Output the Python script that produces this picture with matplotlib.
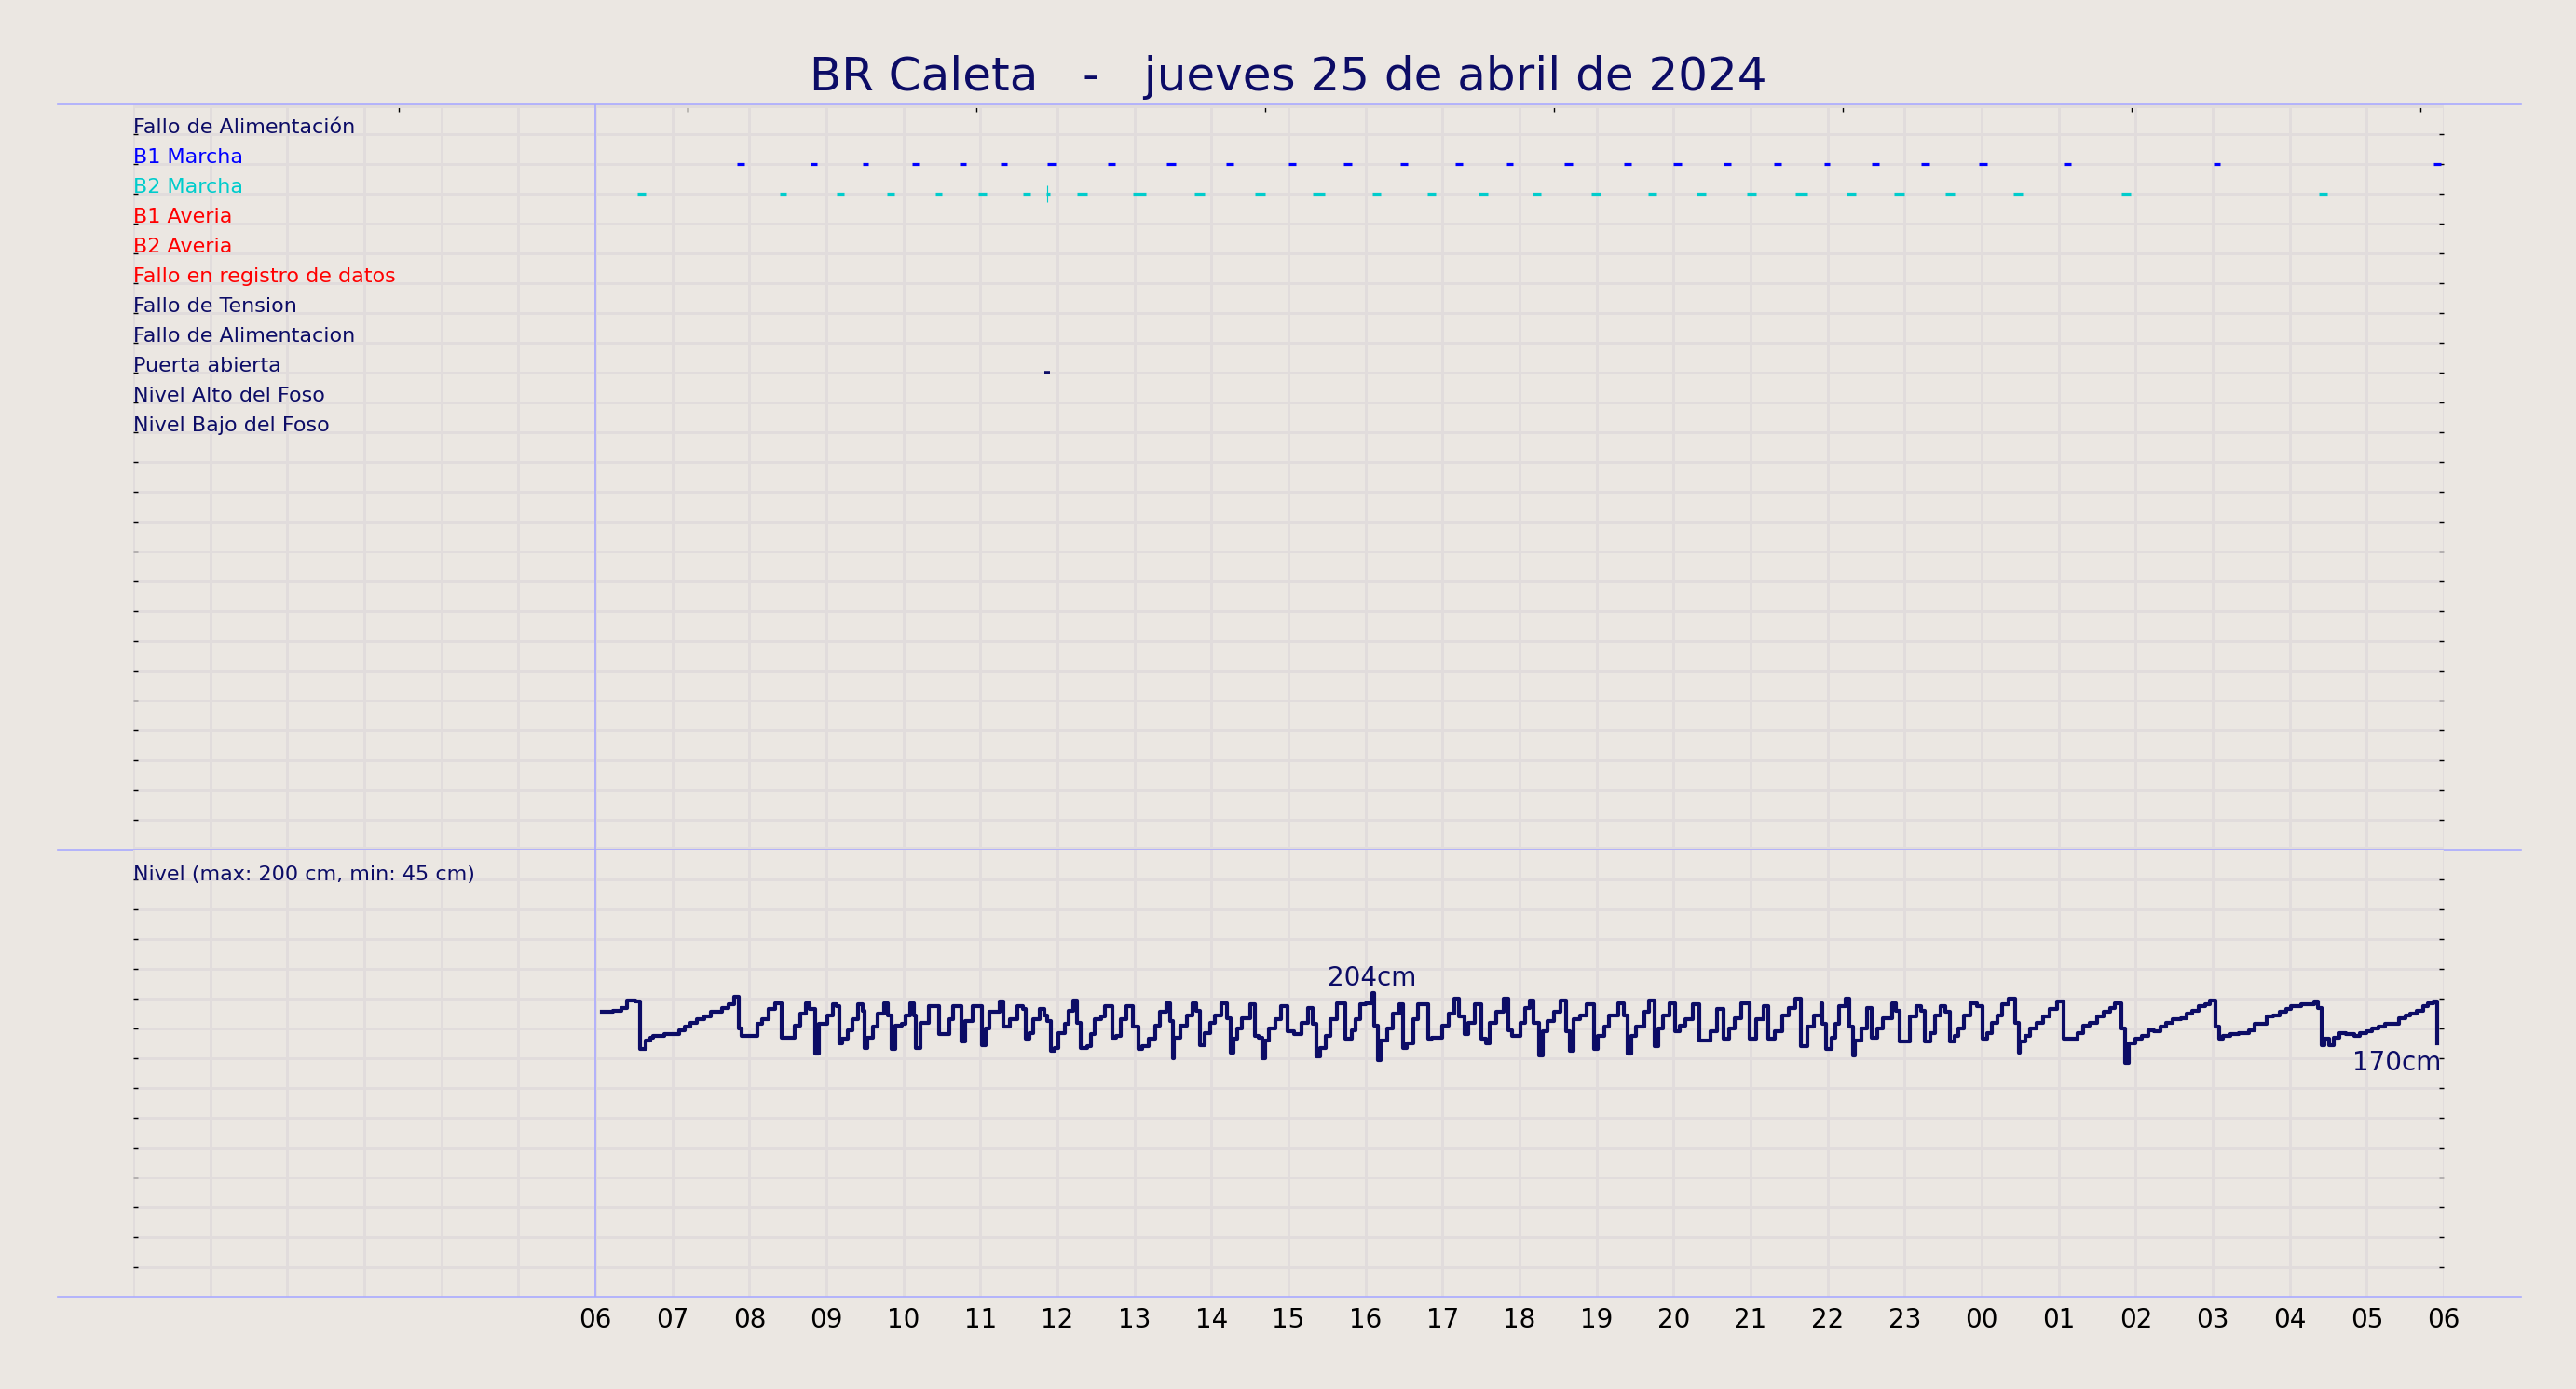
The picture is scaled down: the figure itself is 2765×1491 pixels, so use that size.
import matplotlib
matplotlib.use("Agg")
import matplotlib.pyplot as plt
from matplotlib.ticker import FixedLocator, MultipleLocator

# colores
fondo = '#ebe7e2'
rejilla = '#e1dcdc'
azul_claro = '#aaaaff'
marino = '#0c0c66'

# filas de eventos (de arriba a abajo)
filas = ["Fallo de Alimentación", "B1 Marcha", "B2 Marcha", "B1 Averia", "B2 Averia",
         "Fallo en registro de datos", "Fallo de Tension", "Fallo de Alimentacion",
         "Puerta abierta", "Nivel Alto del Foso", "Nivel Bajo del Foso"]
colores_filas = [marino, '#0000ff', '#00cccc', '#ff0000', '#ff0000', '#ff0000',
                 marino, marino, marino, marino, marino]

# marchas de bombas (inicio, fin)
b1_ini = ["07:50", "08:48", "09:28", "10:07", "10:44", "11:16", "11:52", "12:39", "13:25",
          "14:11", "15:00", "15:43", "16:27", "17:10", "17:50", "18:35", "19:21", "20:00",
          "20:39", "21:18", "21:57", "22:34", "23:13", "23:58", "01:04", "03:01", "05:52"]
b1_fin = ["07:56", "08:53", "09:33", "10:12", "10:49", "11:21", "11:59", "12:45", "13:32",
          "14:17", "15:06", "15:49", "16:33", "17:16", "17:55", "18:41", "19:27", "20:06",
          "20:45", "21:24", "22:02", "22:40", "23:19", "00:04", "01:10", "03:06", "05:58"]
b2_ini = ["06:33", "08:24", "09:08", "09:47", "10:25", "10:58", "11:33", "11:51", "12:15",
          "12:59", "13:47", "14:34", "15:19", "16:05", "16:48", "17:28", "18:10", "18:56",
          "19:40", "20:18", "20:57", "21:35", "22:15", "22:52", "23:32", "00:25", "01:49", "04:23"]
b2_fin = ["06:39", "08:29", "09:14", "09:53", "10:30", "11:05", "11:39", "11:54", "12:23",
          "13:09", "13:55", "14:42", "15:28", "16:12", "16:55", "17:35", "18:17", "19:03",
          "19:47", "20:25", "21:04", "21:44", "22:22", "23:00", "23:39", "00:32", "01:56", "04:29"]
b2_pulso = ["11:52"]
puerta_ini = ["11:50"]
puerta_fin = ["11:54"]

# nivel del foso: minutos desde las 06:00 y cm
nivel_min = [5, 14, 20, 25, 31, 35, 39, 43, 45, 54, 65, 70, 74, 79, 85, 90, 99, 104, 108, 112,
             114, 126, 130, 135, 140, 145, 155, 160, 164, 167, 171, 174, 181, 185, 188, 190, 192,
             197, 200, 205, 208, 210, 212, 216, 220, 225, 228, 231, 234, 239, 242, 245, 248, 250,
             253, 260, 268, 276, 279, 285, 288, 294, 301, 304, 307, 315, 318, 323, 329, 333, 335,
             338, 341, 346, 350, 352, 355, 358, 361, 366, 369, 372, 375, 378, 383, 386, 389, 394,
             397, 403, 406, 409, 414, 419, 423, 426, 431, 436, 440, 445, 448, 450, 451, 456, 461,
             465, 468, 471,
             475, 479, 483, 488, 492, 495, 497, 500, 504, 510, 514, 517, 520, 522, 525, 530, 534,
             539, 544, 550, 555, 559, 562, 565, 569, 573, 578, 584, 589, 592, 596, 600, 605, 607,
             610, 612, 617, 621, 626, 629, 632, 637, 641, 649, 652, 660, 665, 669, 673, 677, 680,
             685, 690, 694, 697, 702, 708, 711, 714, 721, 724, 728, 731, 735, 738, 742, 747, 752,
             756, 759, 762, 767, 772, 778, 781, 786, 790, 797, 801, 804, 807, 811, 817, 821, 825,
             828, 832, 837, 841, 845, 849, 855, 860, 869, 874, 879, 883, 888, 893, 899, 904, 910,
             914, 919, 925, 930, 935, 939, 944, 949, 955,
             956, 959, 963, 966, 969, 974, 977, 980, 981, 986, 991, 994, 999, 1003, 1010, 1013,
             1016, 1024, 1029, 1033, 1036, 1040, 1044, 1048, 1052, 1055, 1059, 1062, 1066, 1071,
             1076, 1081, 1084, 1088, 1092, 1096, 1101, 1106, 1109, 1110, 1114, 1118, 1123, 1128,
             1133, 1139, 1144, 1155, 1159, 1164, 1170, 1175, 1180, 1184, 1189, 1192, 1195, 1200,
             1205, 1210, 1214, 1219, 1224, 1229, 1235, 1240, 1244, 1249, 1254, 1258, 1262, 1265,
             1268, 1274, 1280, 1288, 1293, 1302, 1307, 1312, 1317, 1321, 1329, 1339, 1342, 1345,
             1347, 1351, 1354, 1359, 1364, 1370, 1375, 1380, 1384, 1389, 1394, 1399, 1405, 1410,
             1414, 1419, 1424, 1428, 1432, 1435]
nivel_cm = [191, 192, 194, 199, 198, 166, 172, 174, 175, 176, 179, 181, 184, 186, 188, 191, 194, 196, 201, 180,
            175, 183, 186, 193, 197, 174, 182, 190, 197, 193, 163, 183, 189, 196, 195, 170, 173,
            179, 186, 196, 192, 167, 174, 181, 190, 197, 189, 166, 182, 183, 189, 197, 189, 167,
            184, 195, 176, 186, 195, 171, 185, 195, 169, 180, 191, 198, 181, 186, 195, 193, 173,
            177, 186, 193, 189, 185, 165, 167, 177, 183, 192, 199, 184, 167, 168, 176, 186, 188,
            195, 174, 175, 186, 195, 181, 166, 168, 173, 182, 191, 197, 185, 160, 174, 182, 189,
            197, 192, 169,
            177, 184, 189, 197, 187, 164, 173, 180, 187, 196, 175, 174, 160, 172, 180, 186, 195,
            178, 176, 184, 194, 183, 161, 167, 175, 186, 197, 173, 179, 186, 196, 197, 204, 182,
            159, 172, 180, 190, 196, 167, 170, 186, 196, 173, 174, 182, 190, 200, 188, 176, 184,
            196, 173, 170, 184, 191, 200, 179, 175, 184, 194, 199, 184, 162, 178, 185, 191, 199,
            178, 165, 186, 189, 196, 166, 175, 181, 189, 197, 189, 163, 175, 181, 191, 199, 168,
            180, 189, 197, 178, 182, 186, 196, 172, 178, 193, 173, 180, 187, 197, 173, 186, 195,
            173, 178, 189, 194, 200, 168, 181, 189, 197,
            183, 166, 174, 183, 195, 200, 181, 162, 172, 180, 194, 174, 180, 187, 197, 192,
            171, 188, 195, 192, 171, 177, 189, 195, 191, 171, 175, 180, 189, 197,
            195, 173, 177, 184, 189, 196, 200, 184, 164, 171, 175, 180, 184, 188,
            193, 198, 173, 177, 182, 184, 188, 191, 194, 197, 180, 157, 170, 173,
            175, 179, 178, 181, 184, 186, 187, 190, 192, 195, 196, 199, 181, 173,
            175, 176, 177, 179, 183, 188, 189, 191, 193, 195, 196, 198, 194, 169,
            173, 169, 174, 177, 176, 175, 177, 178, 180, 181, 183, 183, 187, 189,
            190, 192, 195, 197, 198, 170]

horas_eje = list(range(0, 31))
ticks_sup = [3.45, 7.2, 10.95, 14.7, 18.45, 22.2, 25.95, 29.7]


def a_horas(hhmm):
    h, m = hhmm.split(":")
    v = int(h) + int(m) / 60
    if v < 6:
        v += 24
    return v


x_nivel = [6 + m / 60 for m in nivel_min]

plt.rcParams['font.family'] = 'DejaVu Sans'
fig = plt.figure(figsize=(27.65, 14.91), dpi=100, facecolor=fondo)

izq, ancho = 0.05172, 0.89693
ax1 = fig.add_axes([izq, 0.38833, ancho, 0.53655])
ax2 = fig.add_axes([izq, 0.0664, ancho, 0.32193])

for ax in (ax1, ax2):
    ax.set_facecolor(fondo)
    ax.set_xlim(0, 30)
    ax.set_axisbelow(True)
    for s in ax.spines.values():
        s.set_visible(False)
    ax.set_xticks(horas_eje)
    ax.grid(which='major', axis='both', color=rejilla, lw=2.1)
    ax.grid(which='minor', axis='y', color=rejilla, lw=5)
    ax.tick_params(axis='y', which='major', left=True, right=True, direction='in',
                   length=3.6, width=1.0, color='black', labelleft=False)
    ax.tick_params(axis='y', which='minor', length=0)
    ax.tick_params(axis='x', length=0)
    ax.axvline(6, color=azul_claro, lw=1.2, zorder=1.5)

# panel superior: eventos
ax1.set_ylim(25, 0)
ax1.yaxis.set_major_locator(FixedLocator(range(1, 25)))
ax1.yaxis.set_minor_locator(MultipleLocator(5))
ax1.tick_params(axis='x', labelbottom=False)

for i, (txt, col) in enumerate(zip(filas, colores_filas)):
    ax1.annotate(txt, (0, i + 1), xytext=(0, -2.5), textcoords='offset points',
                 color=col, fontsize=16, ha='left', va='bottom')

ax1.hlines([2] * len(b1_ini), [a_horas(t) for t in b1_ini], [a_horas(t) for t in b1_fin],
           color='#0000ff', lw=2.3, zorder=3)
ax1.hlines([3] * len(b2_ini), [a_horas(t) for t in b2_ini], [a_horas(t) for t in b2_fin],
           color='#00cccc', lw=2.3, zorder=3)
ax1.vlines([a_horas(t) for t in b2_pulso], 2.72, 3.28, color='#00cccc', lw=0.8, zorder=3)
ax1.hlines([9] * len(puerta_ini), [a_horas(t) for t in puerta_ini],
           [a_horas(t) for t in puerta_fin], color=marino, lw=2.6, zorder=3)

sup = ax1.secondary_xaxis('top')
sup.set_xticks(ticks_sup)
sup.set_xticklabels([])
sup.tick_params(direction='in', length=5.5, width=1.0, color='black')
sup.spines['top'].set_visible(False)

# panel inferior: nivel
ax2.set_ylim(0, 300)
ax2.yaxis.set_major_locator(FixedLocator(range(20, 300, 20)))
ax2.yaxis.set_minor_locator(FixedLocator([100, 200]))
ax2.set_xticklabels([f"{h % 24:02d}" if h >= 6 else "" for h in horas_eje])
ax2.tick_params(axis='x', labelsize=20, pad=8, labelcolor='black')

ax2.annotate("Nivel (max: 200 cm, min: 45 cm)", (0, 280), xytext=(0, -3.5),
             textcoords='offset points', color=marino, fontsize=16, ha='left', va='bottom')
ax2.plot(x_nivel, nivel_cm, drawstyle='steps-post', color=marino, lw=3.0, zorder=3)

imax = nivel_cm.index(max(nivel_cm))
ax2.annotate(f"{nivel_cm[imax]}cm", (x_nivel[imax], nivel_cm[imax]), xytext=(0, 1),
             textcoords='offset points', ha='center', va='bottom', fontsize=20, color=marino)
ax2.annotate(f"{nivel_cm[-1]}cm", (x_nivel[-1], nivel_cm[-1]), xytext=(3, -5),
             textcoords='offset points', ha='right', va='top', fontsize=20, color=marino)

# líneas azules de separación
for ax, yy in ((ax1, 0), (ax1, 25), (ax2, 0)):
    ax.axhline(yy, xmin=-0.0327, xmax=1.0335, color=azul_claro, lw=1.2, clip_on=False, zorder=4)

fig.text(0.5, 0.9349, "BR Caleta   -   jueves 25 de abril de 2024", ha='center',
         va='baseline', fontsize=36, color=marino)

fig.savefig("out.png", dpi=100, facecolor=fondo)
